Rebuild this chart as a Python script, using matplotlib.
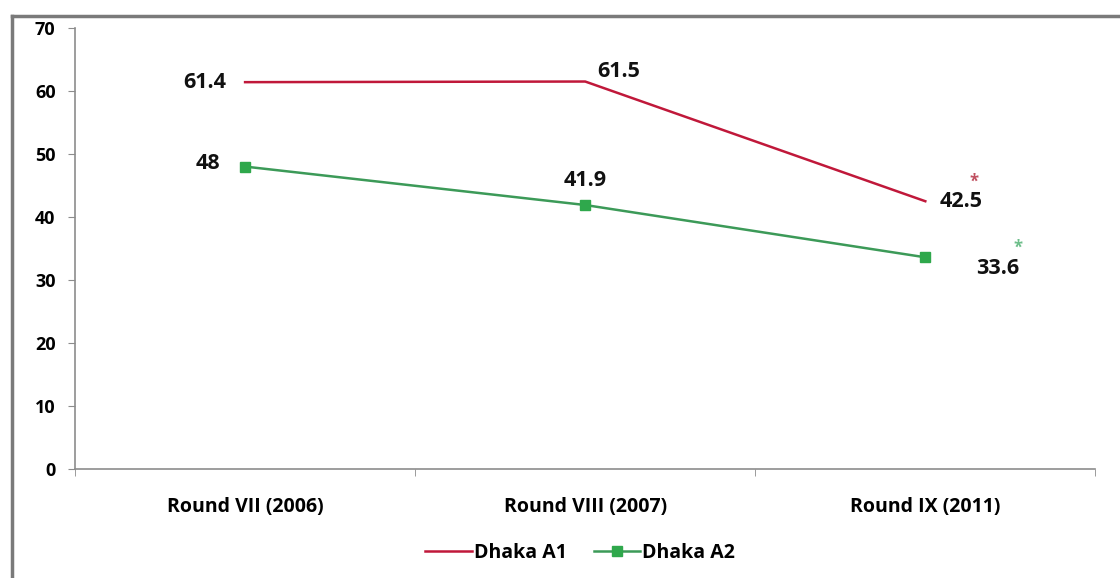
import numpy as np
import matplotlib.pyplot as plt
from matplotlib.lines import Line2D

rounds = ["Round VII (2006)", "Round VIII (2007)", "Round IX (2011)"]
dhaka_a1 = [61.4, 61.5, 42.5]
dhaka_a2 = [48, 41.9, 33.6]
yticks = [0, 10, 20, 30, 40, 50, 60, 70]

red = '#C0183A'
green = '#2FA84C'
grey = '#8C8C8C'

plt.rcParams['font.family'] = ['Open Sans', 'DejaVu Sans']

fig = plt.figure(figsize=(11.2, 5.78), dpi=100)
ax = fig.add_axes([0.067, 0.1886, 0.911, 0.763])

x = np.arange(len(rounds))
ax.plot(x, dhaka_a1, color=red, lw=1.8, label="Dhaka A1")
ax.plot(x, dhaka_a2, color='#3C9A58', lw=1.8, marker='s', ms=7,
        mfc=green, mec=green, label="Dhaka A2")

# value labels, placed like the original
lab_kw = dict(textcoords='offset points', fontsize=15.5, fontweight='bold',
              ha='center', va='center', color='#111111')
off1 = [(-29, 0), (24, 7), (26, 0)]
off2 = [(-27, 2), (0, 18), (52, -8)]
for i in range(3):
    ax.annotate(f"{dhaka_a1[i]:g}", (x[i], dhaka_a1[i]), xytext=off1[i], **lab_kw)
    ax.annotate(f"{dhaka_a2[i]:g}", (x[i], dhaka_a2[i]), xytext=off2[i], **lab_kw)
ax.annotate("*", (x[2], dhaka_a1[2]), xytext=(35, 14), textcoords='offset points',
            fontsize=12, fontweight='bold', color='#C05060', ha='center', va='center')
ax.annotate("*", (x[2], dhaka_a2[2]), xytext=(67, 7), textcoords='offset points',
            fontsize=12, fontweight='bold', color='#6DBE8A', ha='center', va='center')

ax.set_xlim(-0.5, 2.5)
ax.set_ylim(0, 70)
ax.set_yticks(yticks)
ax.set_xticks(x)
ax.set_xticklabels(rounds, fontsize=14, fontweight='bold')
ax.set_xticks([-0.5, 0.5, 1.5, 2.5], minor=True)
ax.tick_params(axis='x', which='major', length=0, pad=20)
ax.tick_params(axis='x', which='minor', length=5, color=grey, direction='out')
ax.tick_params(axis='y', length=5, color=grey, pad=9, labelsize=13)
for lbl in ax.get_yticklabels():
    lbl.set_fontweight('bold')

for s in ['top', 'right']:
    ax.spines[s].set_visible(False)
for s in ['left', 'bottom']:
    ax.spines[s].set_color(grey)
    ax.spines[s].set_linewidth(1.2)

leg = fig.legend(loc='center', bbox_to_anchor=(0.518, 0.043), ncol=2, frameon=False,
                 prop={'size': 14, 'weight': 'bold'}, handlelength=2.4,
                 handletextpad=0.1, columnspacing=1.4)

# outer frame lines (top and left)
fig.add_artist(Line2D([0.0107, 1.0], [0.972, 0.972], color='#7A7A7A', lw=2.5,
                      transform=fig.transFigure))
fig.add_artist(Line2D([0.0107, 0.0107], [0.0, 0.972], color='#7A7A7A', lw=2.5,
                      transform=fig.transFigure))

fig.savefig("out.png", dpi=100)
